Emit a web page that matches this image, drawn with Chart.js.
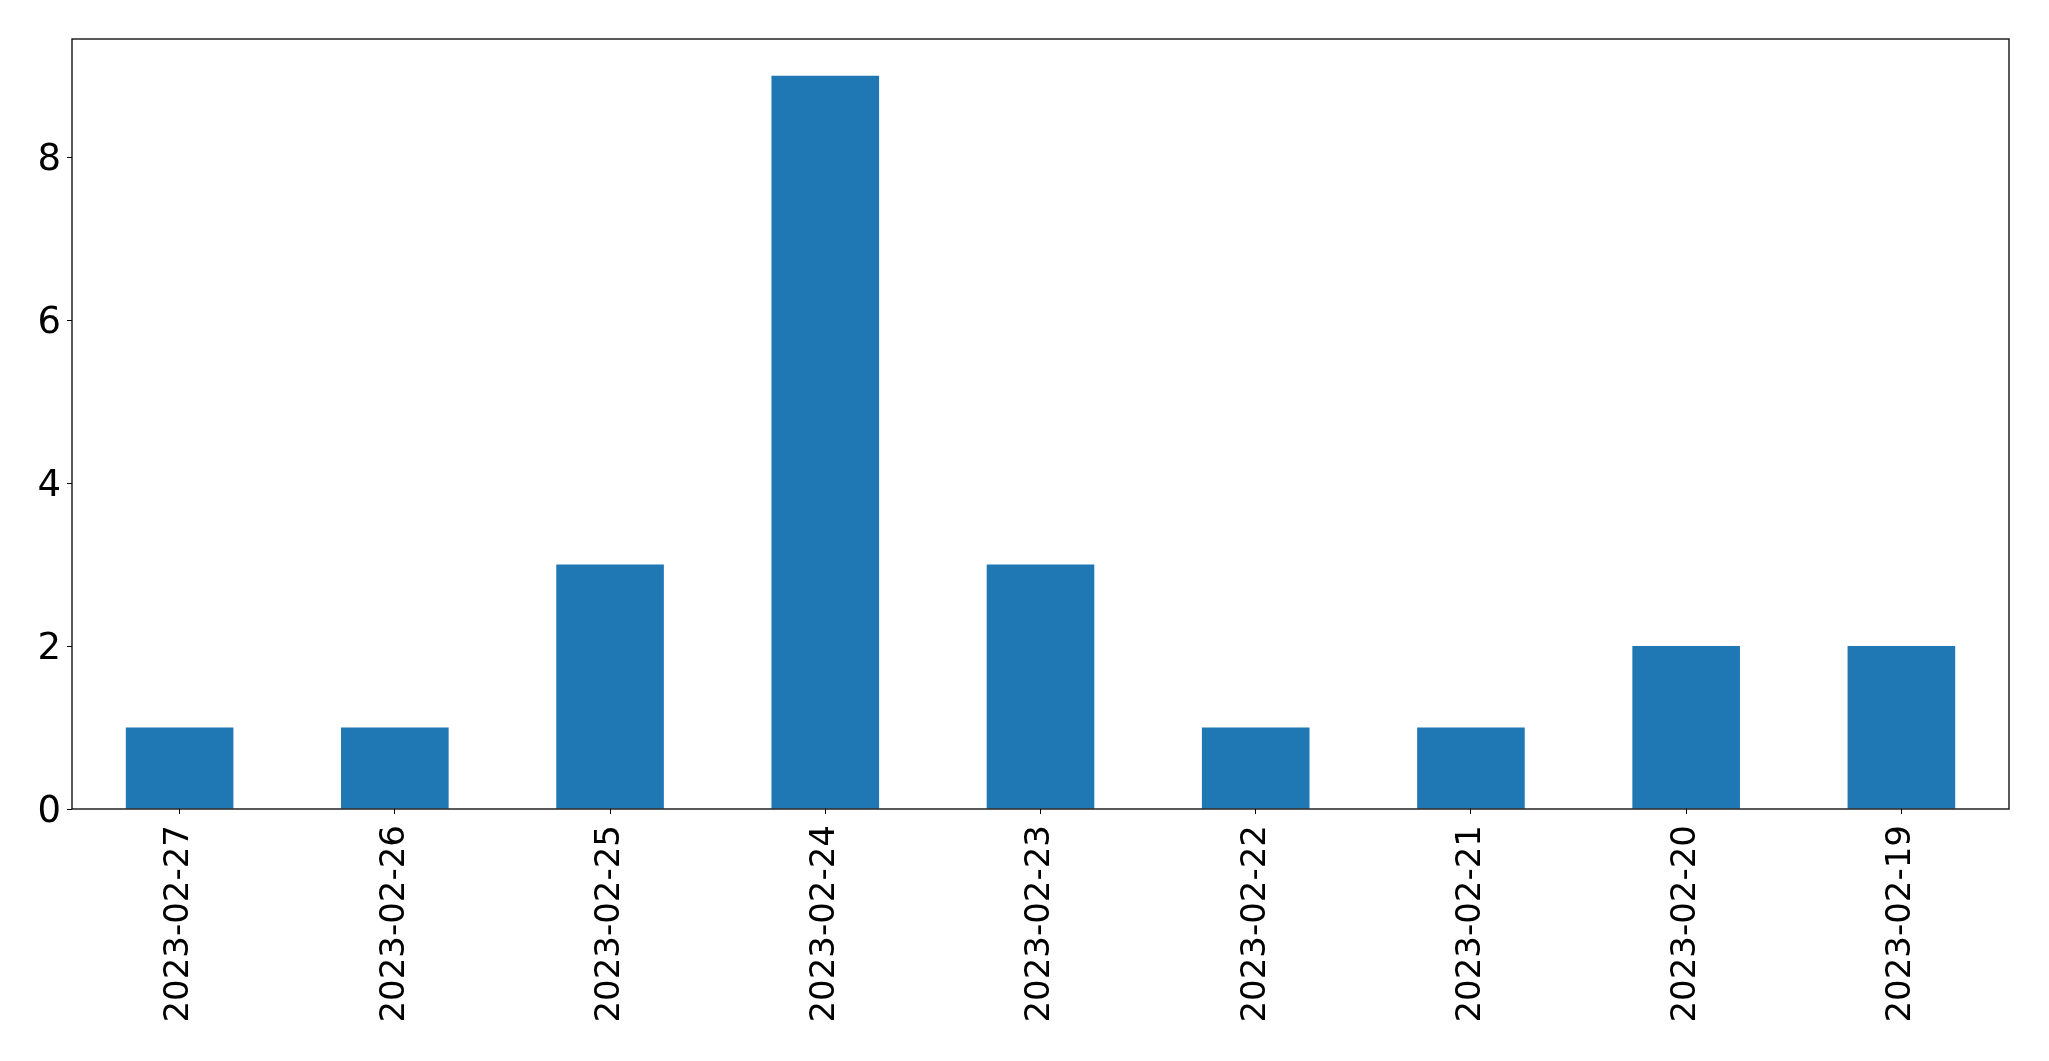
<!DOCTYPE html>
<html>
<head>
<meta charset="utf-8">
<script src="https://cdn.jsdelivr.net/npm/chart.js@4/dist/chart.umd.min.js"></script>
<style>
  html, body { margin: 0; padding: 0; background: #fff; }
  #wrap { width: 2049px; height: 1061px; }
</style>
</head>
<body>
<div id="wrap"><canvas id="chart" width="2049" height="1061"></canvas></div>
<script>
var dates = ['2023-02-27', '2023-02-26', '2023-02-25', '2023-02-24', '2023-02-23',
  '2023-02-22', '2023-02-21', '2023-02-20', '2023-02-19'];
var counts = [1, 1, 3, 9, 3, 1, 1, 2, 2];
var yTicks = [0, 2, 4, 6, 8];

// draws the box around the plot area, like matplotlib's spines
var frame = {
  id: 'frame',
  afterDraw: function(c) {
    var a = c.chartArea, ctx = c.ctx;
    ctx.save();
    ctx.strokeStyle = '#000';
    ctx.lineWidth = 1.3;
    ctx.strokeRect(a.left, a.top, a.right - a.left, a.bottom - a.top);
    ctx.restore();
  }
};

var chart = new Chart(document.getElementById('chart'), {
  type: 'bar',
  data: {
    labels: dates,
    datasets: [{
      data: counts,
      backgroundColor: '#1f77b4',
      borderWidth: 0,
      barPercentage: 0.5,
      categoryPercentage: 1
    }]
  },
  options: {
    responsive: false,
    animation: false,
    layout: { padding: { top: 39, right: 40, left: 0, bottom: 0 } },
    plugins: { legend: { display: false }, tooltip: { enabled: false } },
    scales: {
      x: {
        offset: true,
        grid: { display: true, drawOnChartArea: false, drawTicks: true, tickLength: 5, color: '#000', offset: false },
        border: { display: false },
        ticks: {
          color: '#000', padding: 11, maxRotation: 90, minRotation: 90, autoSkip: false,
          font: { family: 'DejaVu Sans', size: 34 }
        },
        afterFit: function(s) { s.height = 252; }
      },
      y: {
        min: 0,
        max: 9.45,
        afterBuildTicks: function(s) { s.ticks = yTicks.map(function(v) { return { value: v }; }); },
        grid: { display: true, drawOnChartArea: false, drawTicks: true, tickLength: 5, color: '#000' },
        border: { display: false },
        ticks: {
          color: '#000', padding: 6, labelOffset: 3,
          font: { family: 'DejaVu Sans', size: 37 }
        },
        afterFit: function(s) { s.width = 72; }
      }
    }
  },
  plugins: [frame]
});
</script>
</body>
</html>
